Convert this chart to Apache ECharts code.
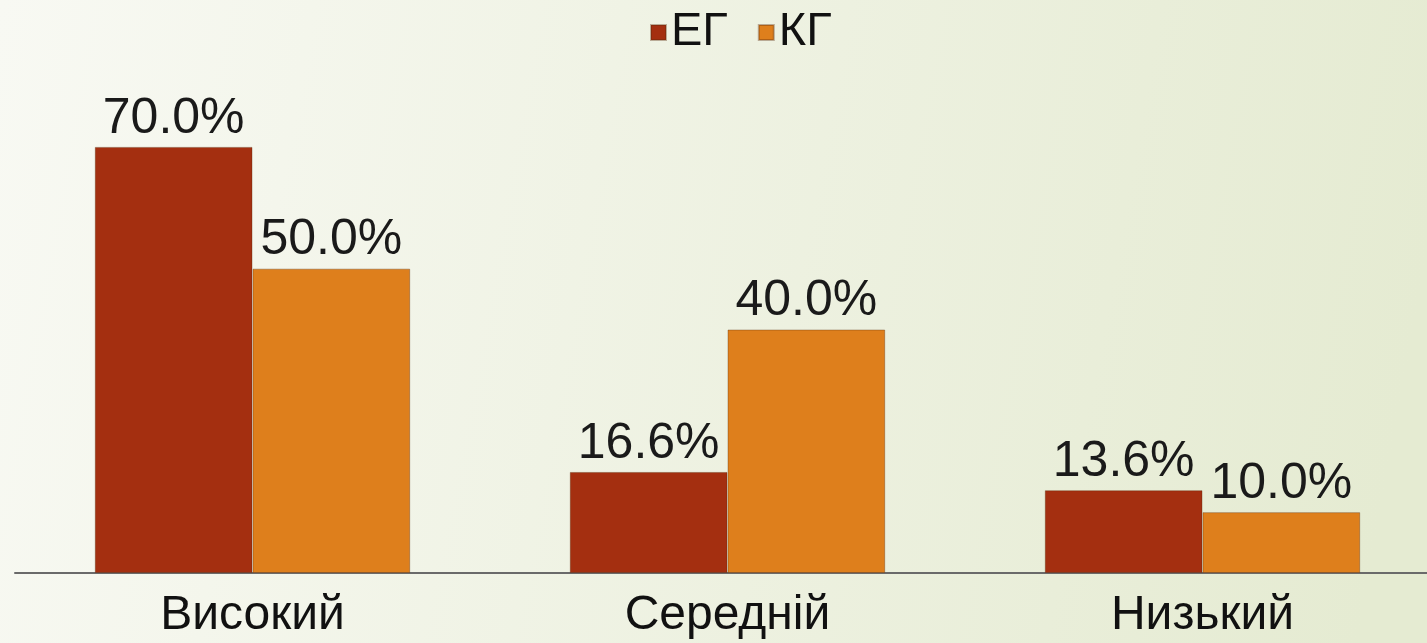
<!DOCTYPE html>
<html>
<head>
<meta charset="utf-8">
<style>
  html, body { margin: 0; padding: 0; }
  #chart { width: 1427px; height: 643px; }
</style>
<script src="https://cdn.jsdelivr.net/npm/echarts@6/dist/echarts.min.js"></script>
</head>
<body>
<div id="chart"></div>
<script>
var categories = ['Високий', 'Середній', 'Низький'];
var seriesNames = ['ЕГ', 'КГ'];
var egValues = [70.0, 16.6, 13.6];
var kgValues = [50.0, 40.0, 10.0];

(function () {
  var chart = echarts.init(document.getElementById('chart'));
  var font = '"Liberation Sans", Arial, sans-serif';

  function barSeries(name, data, color) {
    return {
      name: name,
      type: 'bar',
      data: data,
      barWidth: '33.2%',
      barGap: '0%',
      itemStyle: {
        color: color,
        borderColor: 'rgba(90, 40, 10, 0.35)',
        borderWidth: 1,
      },
      label: {
        show: true,
        position: 'top',
        distance: 3,
        color: '#1a1a1a',
        fontFamily: font,
        fontSize: 50,
        formatter: function (p) {
          return p.value.toFixed(1) + '%';
        },
      },
    };
  }

  var option = {
    backgroundColor: new echarts.graphic.LinearGradient(0, 0, 1, 0.4, [
      { offset: 0, color: '#f8f9f3' },
      { offset: 1, color: '#e5ebd2' },
    ]),
    animation: false,
    legend: {
      top: 4,
      left: 645,
      itemWidth: 15,
      itemHeight: 15,
      itemGap: 30,
      icon: 'rect',
      textStyle: {
        color: '#111',
        fontFamily: font,
        fontSize: 47,
      },
      data: seriesNames,
    },
    grid: {
      left: 15,
      right: -13,
      top: 86,
      bottom: 70,
      containLabel: false,
      outerBoundsMode: 'none',
    },
    xAxis: {
      type: 'category',
      data: categories,
      axisLine: { lineStyle: { color: '#6a6a6a', width: 2 } },
      axisTick: { show: false },
      axisLabel: {
        color: '#111',
        fontFamily: font,
        fontSize: 48,
        margin: 19,
      },
    },
    yAxis: {
      type: 'value',
      min: 0,
      max: 80,
      show: false,
      splitLine: { show: false },
    },
    series: [
      barSeries(seriesNames[0], egValues, '#a42f10'),
      barSeries(seriesNames[1], kgValues, '#de7f1c'),
    ],
  };

  chart.setOption(option);
})();
</script>
</body>
</html>
